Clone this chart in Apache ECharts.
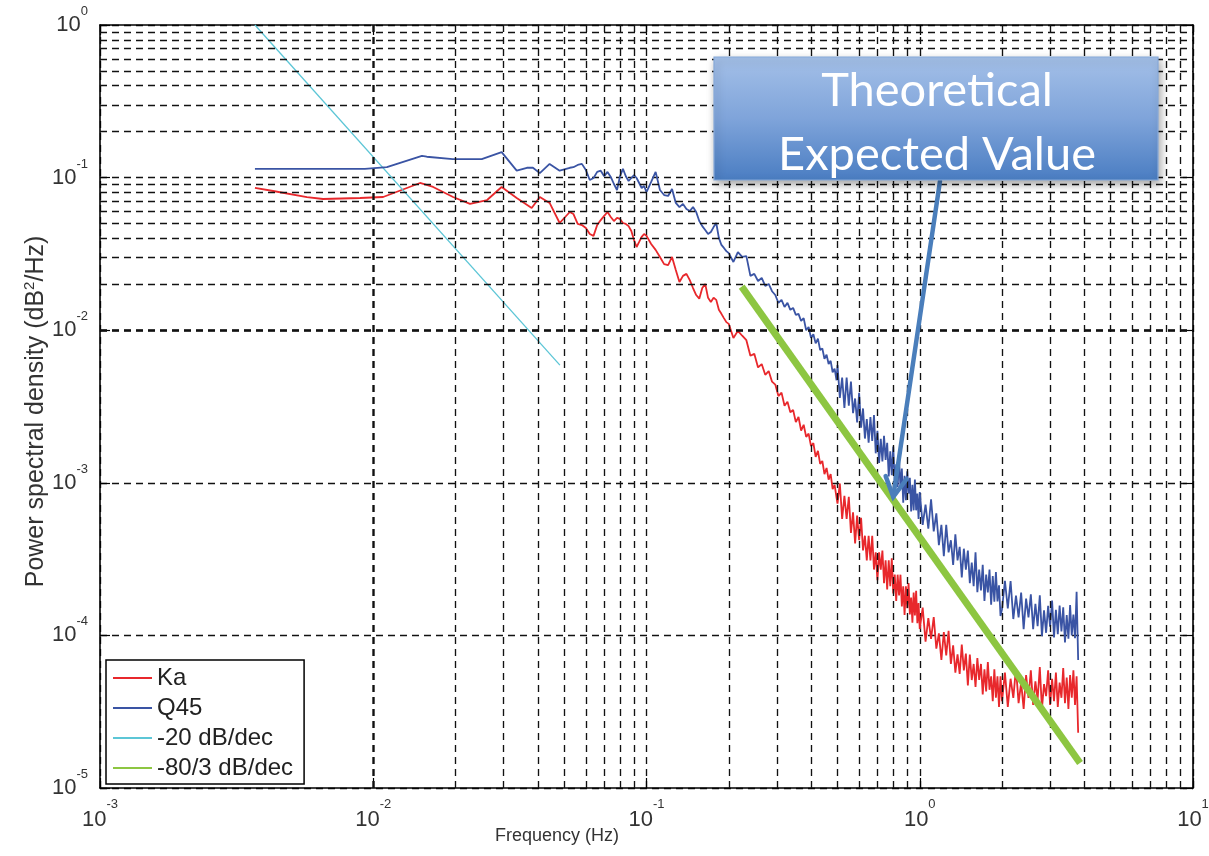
<!DOCTYPE html>
<html><head><meta charset="utf-8">
<script src="https://cdn.jsdelivr.net/npm/echarts/dist/echarts.min.js"></script>
<style>html,body{margin:0;padding:0;background:#fff}#c{width:1209px;height:856px}</style>
</head><body><div id="c"></div>
<script>
// ---------- data ----------
const seriesNames = ['Ka', 'Q45', '-20 dB/dec', '-80/3 dB/dec'];
const xTickRange = [0.001, 10];
const yTickRange = [1e-5, 1];
const minorMantissas = [2, 3, 4, 5, 6, 7, 8, 9];
const xDecades = [-3, -2, -1, 0];
const yDecades = [-5, -4, -3, -2, -1];

// low-frequency part (sparse points)
const kaLow = [[0.00369,0.0855],[0.0043,0.0817],[0.00572,0.0746],[0.00655,0.0724],[0.00895,0.0735],[0.01087,0.0746],[0.01483,0.0922],[0.01656,0.0868],[0.01959,0.0746],[0.0226,0.0672],[0.0261,0.0713],[0.0295,0.0868],[0.0335,0.0735],[0.038,0.0632],[0.0407,0.0746],[0.0442,0.0682],[0.0481,0.0504],[0.0524,0.0595]];
const q45Low = [[0.00369,0.114],[0.00932,0.114],[0.01122,0.117],[0.01507,0.139],[0.0157,0.137],[0.01954,0.132],[0.02495,0.132],[0.0295,0.147],[0.0335,0.111],[0.0365,0.116],[0.0384,0.116],[0.0407,0.107],[0.0442,0.123],[0.0481,0.111],[0.0524,0.116]];

// mid band
const freqB = [0.054,0.056,0.058,0.060,0.062,0.064,0.066,0.068,0.070,0.072,0.074,0.076,0.078,0.080,0.082,0.084,0.086,0.088,0.090,0.092,0.094,0.096,0.098,
0.100,0.104,0.108,0.112,0.116,0.120,0.124,0.128,0.132,0.136,0.140,0.144,0.148,0.152,0.156,0.160,0.164,0.168,0.172,0.176,0.180,0.184,0.188,0.192,0.196,
0.200,0.208,0.216,0.224,0.232,0.240,0.248,0.256,0.264,0.272,0.280,0.288,0.296,0.304,0.312,0.320,0.328,0.336,0.344,0.352,0.360,0.368,0.376,0.384,0.392,0.400,0.408,0.416,0.424,0.432,0.440,0.448,0.456,0.464,0.472,0.480,0.488,0.496];
const kaB = [0.0578,0.0497,0.0489,0.0467,0.0427,0.0415,0.0489,0.0527,0.0561,0.0595,0.0552,0.0519,0.0544,0.0536,0.0504,0.0497,0.0481,0.0447,0.0390,0.0351,0.0379,0.0409,0.0427,
0.0415,0.0367,0.0336,0.0302,0.0271,0.0267,0.0302,0.0248,0.0207,0.0227,0.0234,0.0213,0.0189,0.0170,0.0161,0.0189,0.0201,0.0163,0.0153,0.0163,0.0158,0.0136,0.0128,0.0120,0.0113,
0.0110,0.0089,0.0099,0.0092,0.0086,0.0068,0.0070,0.0057,0.0060,0.0051,0.0054,0.0046,0.0044,0.0037,0.0039,0.0032,0.0034,0.0029,0.0030,0.0025,0.0027,0.0022,0.0024,0.0020,0.0021,0.00174,0.00182,0.00148,0.00162,0.00133,0.00139,0.00114,0.00125,0.00105,0.00114,0.00091,0.00097,0.00080];
const q45B = [0.117,0.121,0.123,0.112,0.0964,0.0994,0.109,0.111,0.102,0.109,0.101,0.0908,0.0829,0.102,0.114,0.102,0.095,0.0994,0.104,0.0994,0.0922,0.0855,0.0881,
0.0804,0.0936,0.109,0.0829,0.0769,0.0758,0.0842,0.0682,0.0641,0.0672,0.0623,0.0604,0.0641,0.0595,0.0519,0.0481,0.0454,0.0427,0.0440,0.0474,0.0504,0.0403,0.0362,0.0346,0.0330,
0.0320,0.0280,0.0325,0.0302,0.0306,0.0227,0.0234,0.0210,0.0220,0.0195,0.0201,0.0180,0.0170,0.0151,0.0158,0.0142,0.0151,0.0136,0.0140,0.0126,0.0128,0.0115,0.0120,0.0100,0.0105,0.0089,0.0094,0.0082,0.0088,0.0074,0.0076,0.0065,0.0069,0.0060,0.0063,0.0053,0.0056,0.0047];

// high band (dense)
const freqC = [0.50,0.51,0.52,0.53,0.54,0.55,0.56,0.57,0.58,0.59,0.60,0.61,0.62,0.63,0.64,0.65,0.66,0.67,0.68,0.69,0.70,0.71,0.72,0.73,0.74,0.75,0.76,0.77,0.78,0.79,0.80,0.81,0.82,0.83,0.84,0.85,0.86,0.87,0.88,0.89,0.90,0.91,0.92,0.93,0.94,0.95,0.96,0.97,0.98,0.99,
1.000,1.025,1.050,1.075,1.100,1.125,1.150,1.175,1.200,1.225,1.250,1.275,1.300,1.325,1.350,1.375,1.400,1.425,1.450,1.475,1.500,1.525,1.550,1.575,1.600,1.625,1.650,1.675,1.700,1.725,1.750,1.775,1.800,1.825,1.850,1.875,1.900,1.925,1.950,1.975,
2.00,2.05,2.10,2.15,2.20,2.25,2.30,2.35,2.40,2.45,2.50,2.55,2.60,2.65,2.70,2.75,2.80,2.85,2.90,2.95,3.00,3.05,3.10,3.15,3.20,3.25,3.30,3.35,3.40,3.45,3.50,3.55,3.60,3.65,3.70,3.75,3.80];
const kaC = [7.3e-4,9.9e-4,5.8e-4,8.2e-4,5.8e-4,8.1e-4,4.7e-4,6.4e-4,4.0e-4,6.1e-4,4.2e-4,5.9e-4,3.6e-4,4.5e-4,3.1e-4,4.5e-4,3.1e-4,4.5e-4,2.7e-4,3.5e-4,2.3e-4,3.5e-4,2.7e-4,3.6e-4,2.2e-4,3.1e-4,2.0e-4,3.1e-4,2.1e-4,3.2e-4,1.88e-4,2.5e-4,1.68e-4,2.5e-4,1.83e-4,2.5e-4,1.55e-4,2.1e-4,1.36e-4,2.1e-4,1.51e-4,2.2e-4,1.37e-4,1.77e-4,1.21e-4,1.91e-4,1.35e-4,1.96e-4,1.20e-4,1.63e-4,
1.10e-4,1.52e-4,9.1e-5,1.30e-4,9.5e-5,1.32e-4,8.2e-5,1.03e-4,6.9e-5,1.05e-4,7.4e-5,1.07e-4,6.5e-5,8.6e-5,5.7e-5,7.5e-5,5.6e-5,8.7e-5,5.9e-5,7.6e-5,4.7e-5,7.5e-5,5.1e-5,6.5e-5,4.6e-5,7.1e-5,5.1e-5,6.5e-5,4.1e-5,6.0e-5,4.3e-5,6.7e-5,4.4e-5,5.4e-5,3.7e-5,6.0e-5,3.9e-5,5.4e-5,3.4e-5,5.4e-5,
3.7e-5,5.7e-5,3.4e-5,5.2e-5,3.9e-5,6.1e-5,3.6e-5,4.9e-5,3.3e-5,5.5e-5,3.9e-5,5.9e-5,3.5e-5,5.0e-5,3.8e-5,6.2e-5,3.3e-5,4.8e-5,4.0e-5,5.9e-5,3.5e-5,5.2e-5,3.7e-5,5.7e-5,3.4e-5,4.9e-5,3.9e-5,6.1e-5,3.6e-5,5.3e-5,3.3e-5,5.5e-5,3.9e-5,5.9e-5,3.5e-5,5.4e-5,2.3e-5];
const q45C = [5.9e-3,3.6e-3,4.9e-3,3.1e-3,4.9e-3,3.2e-3,4.6e-3,2.86e-3,3.57e-3,2.49e-3,3.89e-3,2.30e-3,3.07e-3,1.95e-3,2.62e-3,1.83e-3,2.70e-3,1.88e-3,2.78e-3,1.56e-3,2.19e-3,1.35e-3,1.94e-3,1.38e-3,2.03e-3,1.41e-3,1.83e-3,1.10e-3,1.61e-3,1.12e-3,1.73e-3,9.7e-4,1.32e-3,9.4e-4,1.45e-3,9.2e-4,1.24e-3,7.4e-4,1.11e-3,7.7e-4,1.19e-3,8.5e-4,1.08e-3,6.5e-4,9.7e-4,6.6e-4,1.05e-3,6.6e-4,8.5e-4,5.8e-4,
8.7e-4,5.3e-4,7.2e-4,5.0e-4,7.8e-4,4.8e-4,6.3e-4,3.9e-4,5.3e-4,3.3e-4,5.3e-4,3.5e-4,4.2e-4,2.9e-4,4.6e-4,3.1e-4,3.8e-4,2.4e-4,3.7e-4,2.7e-4,3.6e-4,2.2e-4,3.0e-4,2.1e-4,3.5e-4,1.92e-4,2.7e-4,1.97e-4,2.9e-4,1.68e-4,2.5e-4,1.91e-4,2.7e-4,1.59e-4,2.45e-4,1.66e-4,2.6e-4,1.67e-4,2.13e-4,1.34e-4,
1.48e-4,2.28e-4,1.50e-4,2.27e-4,1.28e-4,1.82e-4,1.31e-4,1.91e-4,1.10e-4,1.74e-4,1.31e-4,1.86e-4,1.10e-4,1.61e-4,1.15e-4,1.83e-4,0.99e-4,1.46e-4,1.04e-4,1.56e-4,1.14e-4,1.69e-4,0.97e-4,1.47e-4,1.02e-4,1.57e-4,1.06e-4,1.53e-4,0.90e-4,1.36e-4,0.95e-4,1.58e-4,1.00e-4,1.37e-4,0.96e-4,1.93e-4,6.9e-5];

const slope20 = [[0.00369, 1.0], [0.0482, 0.0059]];
const slope80_3 = [[0.223, 0.0193], [3.86, 1.46e-5]];
const calloutLines = ['Theoretical', 'Expected Value'];
const arrowTipData = [0.8, 8.1e-4];

// ---------- build ----------
const pair = (fs, vs) => fs.map((f, i) => [f, vs[i]]);
const kaData = kaLow.concat(pair(freqB, kaB), pair(freqC, kaC));
const q45Data = q45Low.concat(pair(freqB, q45B), pair(freqC, q45C));

const gridStyle = { color: '#111', width: 1.35, type: [7, 5] };
const minorLines = [];
xDecades.forEach(d => minorMantissas.forEach(m => minorLines.push({ xAxis: m * Math.pow(10, d) })));
yDecades.forEach(d => minorMantissas.forEach(m => minorLines.push({ yAxis: m * Math.pow(10, d) })));

const FONT = "'Liberation Sans', Arial, sans-serif";
const powLabel = v => '{b|10}{s|' + Math.round(Math.log10(v)) + '}';
const labelRich = (lh) => ({
  b: { fontSize: 22, lineHeight: lh, fontFamily: FONT, color: '#333' },
  s: { fontSize: 13, lineHeight: 14, verticalAlign: 'top', fontFamily: FONT, color: '#333' }
});

const chart = echarts.init(document.getElementById('c'), null, { renderer: 'canvas' });
const axisLine = { show: true, onZero: false, lineStyle: { color: '#000', width: 1.6 } };
const tick = { show: true, inside: true, length: 10, lineStyle: { color: '#000', width: 1.2 } };

chart.setOption({
  animation: false,
  backgroundColor: '#fff',
  grid: { left: 100, top: 25, width: 1093, height: 763, containLabel: false, outerBoundsMode: 'none' },
  legend: {
    data: seriesNames, orient: 'vertical', left: 106, top: 660,
    icon: 'rect', itemWidth: 39, itemHeight: 2, itemGap: 6,
    padding: [6, 11, 4, 7], backgroundColor: '#fff', borderColor: '#000', borderWidth: 1.5, borderRadius: 0,
    textStyle: { fontFamily: FONT, fontSize: 24, color: '#222' }, z: 20, selectedMode: false
  },
  xAxis: [{
    type: 'log', logBase: 10, min: xTickRange[0], max: xTickRange[1], splitNumber: 4, position: 'bottom',
    axisLine: axisLine, axisTick: tick,
    axisLabel: { formatter: powLabel, margin: 10, rich: labelRich(44), showMinLabel: true, showMaxLabel: true },
    splitLine: { show: true, lineStyle: gridStyle },
    name: 'Frequency (Hz)', nameLocation: 'middle', nameGap: 39, nameMoveOverlap: false,
    nameTextStyle: { fontFamily: FONT, fontSize: 18, color: '#333', padding: [0, 179, 0, 0] }
  }, {
    type: 'log', logBase: 10, min: xTickRange[0], max: xTickRange[1], splitNumber: 4, position: 'top',
    axisLine: axisLine, axisTick: tick, axisLabel: { show: false }, splitLine: { show: false }
  }],
  yAxis: [{
    type: 'log', logBase: 10, min: yTickRange[0], max: yTickRange[1], splitNumber: 5, position: 'left',
    axisLine: axisLine, axisTick: tick,
    axisLabel: { formatter: powLabel, margin: 12, rich: labelRich(40), showMinLabel: true, showMaxLabel: true },
    splitLine: { show: true, lineStyle: gridStyle },
    name: 'Power spectral density (dB{s|2}/Hz)', nameLocation: 'middle', nameGap: 50, nameMoveOverlap: false,
    nameTextStyle: { fontFamily: FONT, fontSize: 25, lineHeight: 28, color: '#333', padding: [0, 10, 0, 0],
      rich: { s: { fontFamily: FONT, fontSize: 15, lineHeight: 14, verticalAlign: 'top', color: '#333' } } }
  }, {
    type: 'log', logBase: 10, min: yTickRange[0], max: yTickRange[1], splitNumber: 5, position: 'right',
    axisLine: axisLine, axisTick: tick, axisLabel: { show: false }, splitLine: { show: false }
  }],
  series: [
    { type: 'line', name: 'minor grid', data: [], z: 1, silent: true,
      markLine: { silent: true, symbol: ['none', 'none'], label: { show: false }, lineStyle: gridStyle,
        emphasis: { disabled: true }, animation: false, data: minorLines } },
    { type: 'line', name: seriesNames[0], data: kaData, color: '#e8282c', symbol: 'none', showSymbol: false,
      lineStyle: { width: 1.8, color: '#e8282c' }, z: 3 },
    { type: 'line', name: seriesNames[1], data: q45Data, color: '#3a54a4', symbol: 'none', showSymbol: false,
      lineStyle: { width: 1.8, color: '#3a54a4' }, z: 4 },
    { type: 'line', name: seriesNames[2], data: slope20, color: '#5cc6d6', symbol: 'none', showSymbol: false,
      lineStyle: { width: 1.3, color: '#5cc6d6' }, z: 3 },
    { type: 'line', name: seriesNames[3], data: slope80_3, color: '#8dc641', symbol: 'none', showSymbol: false,
      lineStyle: { width: 7, color: '#8dc641', cap: 'butt' }, z: 5 }
  ]
});

// ---------- callout annotation ----------
const tip = chart.convertToPixel({ gridIndex: 0 }, arrowTipData);
const tail = [940, 181];
const dx = tip[0] - tail[0], dy = tip[1] - tail[1];
const len = Math.hypot(dx, dy), ux = dx / len, uy = dy / len;
const arm = (ang) => {
  const c = Math.cos(ang), s = Math.sin(ang);
  const bx = -ux, by = -uy;
  return [tip[0] + 22 * (bx * c - by * s), tip[1] + 22 * (bx * s + by * c)];
};
chart.setOption({
  graphic: [
    { type: 'line', z: 100, shape: { x1: tail[0], y1: tail[1], x2: tip[0], y2: tip[1] },
      style: { stroke: '#4a7ebb', lineWidth: 4.5, lineCap: 'round' } },
    { type: 'polyline', z: 100, shape: { points: [arm(0.5), tip, arm(-0.5)] },
      style: { stroke: '#4a7ebb', lineWidth: 4.5, lineCap: 'round', lineJoin: 'miter', fill: null } },
    { type: 'rect', z: 101, shape: { x: 714, y: 57, width: 444, height: 123 },
      style: {
        fill: { type: 'linear', x: 0, y: 0, x2: 0, y2: 1, colorStops: [
          { offset: 0, color: '#a4c0e8' }, { offset: 0.5, color: '#7fa4da' }, { offset: 1, color: '#4a7dc2' }] },
        stroke: '#86a9d9', lineWidth: 1.2,
        shadowBlur: 8, shadowOffsetX: 2, shadowOffsetY: 4, shadowColor: 'rgba(0,0,0,0.35)'
      } },
    { type: 'text', z: 102, style: { text: calloutLines[0], x: 937, y: 91, fill: '#fff',
      fontFamily: 'Lato, "Open Sans", sans-serif', fontSize: 47, align: 'center', verticalAlign: 'middle',
      textAlign: 'center', textVerticalAlign: 'middle' } },
    { type: 'text', z: 102, style: { text: calloutLines[1], x: 937, y: 155, fill: '#fff',
      fontFamily: 'Lato, "Open Sans", sans-serif', fontSize: 47, align: 'center', verticalAlign: 'middle',
      textAlign: 'center', textVerticalAlign: 'middle' } }
  ]
});
</script></body></html>
